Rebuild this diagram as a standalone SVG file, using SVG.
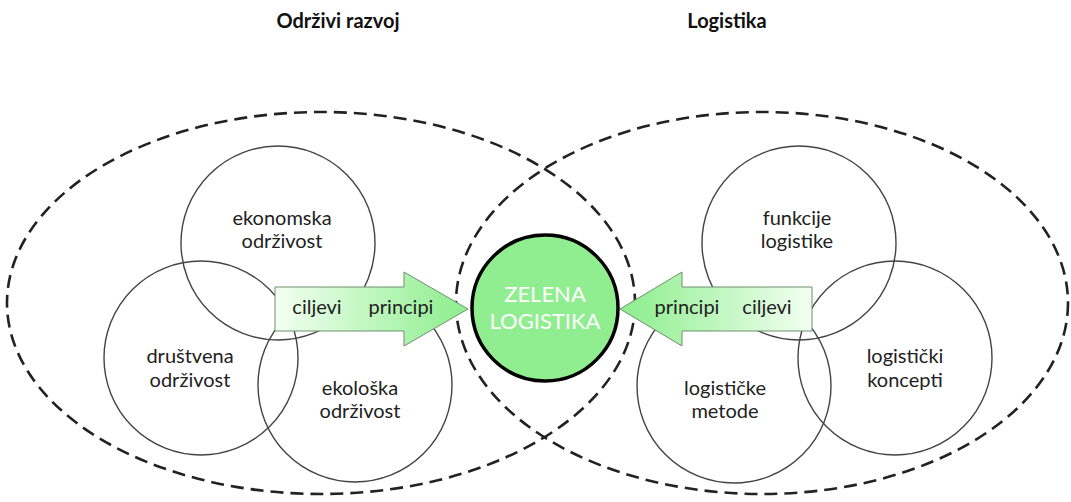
<svg xmlns="http://www.w3.org/2000/svg" width="1071" height="502" viewBox="0 0 1071 502">
<style>
.title{font-family:Lato,"Liberation Sans",sans-serif;font-size:20px;font-weight:bold;fill:#111;text-anchor:middle}
.lbl{font-family:Lato,"Liberation Sans",sans-serif;font-size:20px;fill:#222;text-anchor:middle}
.ring{fill:none;stroke:#444;stroke-width:1.4}
.dash{fill:none;stroke:#222;stroke-width:2.6;stroke-dasharray:13 7}
.arrow{stroke:#6f8f6f;stroke-width:1}
.center{fill:#90ee90;stroke:#000;stroke-width:3.5}
.ctext{font-family:Lato,"Liberation Sans",sans-serif;font-size:22px;fill:#fff;text-anchor:middle}
</style>
<defs>
<linearGradient id="gL" x1="275" y1="0" x2="468" y2="0" gradientUnits="userSpaceOnUse">
<stop offset="0" stop-color="#f2fff2"/><stop offset="1" stop-color="#8cee8c"/>
</linearGradient>
<linearGradient id="gR" x1="812" y1="0" x2="620" y2="0" gradientUnits="userSpaceOnUse">
<stop offset="0" stop-color="#f2fff2"/><stop offset="1" stop-color="#8cee8c"/>
</linearGradient>
</defs>
<rect width="1071" height="502" fill="#fff"/>
<g id="title-odrzivi"><text class="title" x="338" y="28">Održivi razvoj</text></g>
<g id="title-logistika"><text class="title" x="727" y="28">Logistika</text></g>
<g id="group-odrzivi-razvoj"><ellipse class="dash" cx="321" cy="303" rx="314" ry="191"/></g>
<g id="group-logistika"><ellipse class="dash" cx="762" cy="303" rx="306" ry="191"/></g>
<g id="ekonomska"><circle class="ring" cx="278" cy="243" r="97"/><text class="lbl" x="282" y="225">ekonomska</text><text class="lbl" x="282" y="248">održivost</text></g>
<g id="drustvena"><circle class="ring" cx="201" cy="358" r="97"/><text class="lbl" x="190" y="363">društvena</text><text class="lbl" x="190" y="387">održivost</text></g>
<g id="ekoloska"><circle class="ring" cx="355" cy="385" r="97"/><text class="lbl" x="360" y="395">ekološka</text><text class="lbl" x="360" y="418">održivost</text></g>
<g id="funkcije"><circle class="ring" cx="799" cy="243" r="97"/><text class="lbl" x="797" y="225">funkcije</text><text class="lbl" x="797" y="248">logistike</text></g>
<g id="metode"><circle class="ring" cx="734" cy="386" r="97"/><text class="lbl" x="725" y="395">logističke</text><text class="lbl" x="725" y="418">metode</text></g>
<g id="koncepti"><circle class="ring" cx="895" cy="358" r="97"/><text class="lbl" x="905" y="363">logistički</text><text class="lbl" x="905" y="387">koncepti</text></g>
<g id="connectors">
<g id="arrow-left"><path class="arrow" fill="url(#gL)" d="M275 287 H404 V272 L468 309 L404 346 V331 H275 Z"/><text class="lbl" x="317" y="314">ciljevi</text><text class="lbl" x="401" y="314">principi</text></g>
<g id="arrow-right"><path class="arrow" fill="url(#gR)" d="M812 287 H682 V272 L620 309 L682 346 V331 H812 Z"/><text class="lbl" x="687" y="314">principi</text><text class="lbl" x="767" y="314">ciljevi</text></g>
</g>
<g id="zelena-logistika"><circle class="center" cx="545" cy="308" r="73"/><text class="ctext" x="545" y="302">ZELENA</text><text class="ctext" x="545" y="329">LOGISTIKA</text></g>
</svg>
